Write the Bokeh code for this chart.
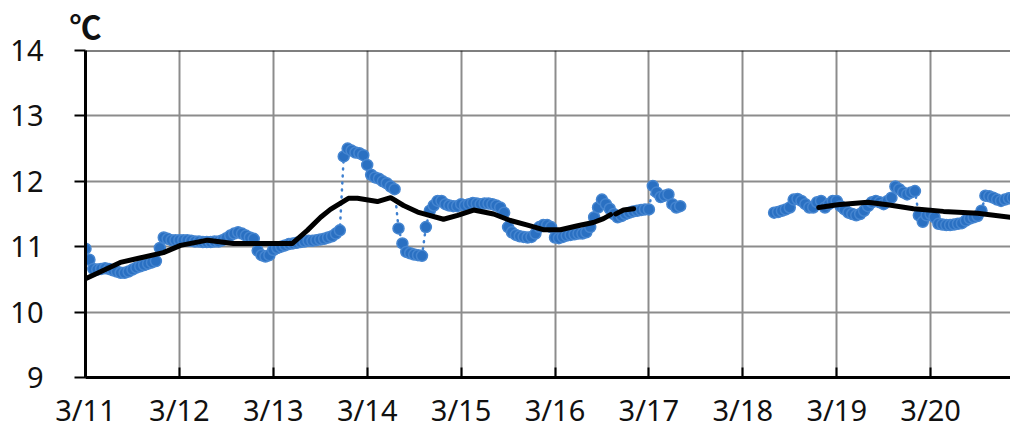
from bokeh.plotting import figure
from bokeh.models import Range1d, FixedTicker, Span
from bokeh.embed import file_html
from bokeh.resources import INLINE

nan = float("nan")

# hourly water temperature (deg C), index = hour of day
temp_0311 = [10.97, 10.80, 10.66, 10.65, 10.66, 10.67, 10.66, 10.64, 10.62, 10.60, 10.60, 10.62,
             10.65, 10.68, 10.70, 10.72, 10.74, 10.76, 10.78, 10.98, 11.14, 11.12, 11.10, 11.10]
temp_0312 = [11.10, 11.10, 11.10, 11.09, 11.08, 11.08, 11.07, 11.07, 11.07, 11.08, 11.08, 11.10,
             11.13, 11.17, 11.20, 11.22, 11.20, 11.17, 11.14, 11.12, 10.94, 10.87, 10.85, 10.87]
temp_0313 = [10.95, 10.98, 11.00, 11.02, 11.04, 11.05, 11.06, 11.07, 11.08, 11.09, 11.09, 11.10,
             11.11, 11.12, 11.14, 11.16, 11.20, 11.25, 12.38, 12.50, 12.47, 12.44, 12.43, 12.40]
temp_0314 = [12.25, 12.10, 12.06, 12.04, 12.00, 11.97, 11.92, 11.88, 11.28, 11.05, 10.92, 10.90,
             10.88, 10.87, 10.86, 11.30, 11.55, 11.63, 11.70, 11.70, 11.65, 11.63, 11.62, 11.62]
temp_0315 = [11.65, 11.63, 11.65, 11.67, 11.66, 11.65, 11.66, 11.66, 11.65, 11.63, 11.60, 11.52,
             11.30, 11.22, 11.18, 11.16, 11.15, 11.14, 11.15, 11.20, 11.30, 11.33, 11.33, 11.30]
temp_0316 = [11.14, 11.13, 11.15, 11.17, 11.18, 11.19, 11.20, 11.20, 11.22, 11.30, 11.45, 11.60,
             11.72, 11.65, 11.58, 11.50, 11.45, 11.47, 11.50, 11.52, 11.54, 11.55, 11.56, 11.57]
temp_0317 = [11.57, 11.93, 11.83, 11.76, 11.78, 11.80, 11.65, 11.60, 11.62, nan, nan, nan,
             nan, nan, nan, nan, nan, nan, nan, nan, nan, nan, nan, nan]
temp_0318 = [nan, nan, nan, nan, nan, nan, nan, nan, 11.52, 11.53, 11.55, 11.57,
             11.60, 11.72, 11.73, 11.70, 11.65, 11.60, 11.60, 11.68, 11.70, 11.60, 11.65, 11.70]
temp_0319 = [11.70, 11.62, 11.57, 11.52, 11.50, 11.48, 11.50, 11.55, 11.62, 11.68, 11.70, 11.68,
             11.65, 11.70, 11.75, 11.92, 11.88, 11.83, 11.80, 11.83, 11.85, 11.48, 11.38, 11.48]
temp_0320 = [11.50, 11.45, 11.35, 11.34, 11.33, 11.33, 11.34, 11.35, 11.36, 11.40, 11.43, 11.45,
             11.47, 11.55, 11.78, 11.77, 11.75, 11.72, 11.70, 11.72, 11.74, 11.75]

# moving average (hours since 3/11 00:00, deg C)
ma_hours = [0, 8.9, 13.3, 19.9, 24.3, 31.2, 37.8, 42.9, 52.9, 56.7, 60.1, 62.6, 67.2, 69.5,
            74.6, 78.0, 81.3, 84.9, 91.5, 95.1, 99.2, 104.3, 108.6, 113.0, 117.0, 121.4,
            125.8, 129.8, 132.4, 134.2, 134.9, 135.5, 137.5, 140.1, 160.0,
            187.4, 192.2, 199.9, 205.0, 211.6, 219.3, 228.0, 236.4]
ma_vals = [10.51, 10.76, 10.82, 10.91, 11.02, 11.10, 11.05, 11.05, 11.05, 11.25, 11.45, 11.57, 11.74, 11.74,
           11.69, 11.75, 11.63, 11.53, 11.42, 11.48, 11.56, 11.50, 11.40, 11.33, 11.26, 11.26,
           11.32, 11.37, 11.43, 11.49, nan, 11.50, 11.56, 11.58, nan,
           11.60, 11.64, 11.68, 11.64, 11.58, 11.54, 11.51, 11.45]

days = [11, 12, 13, 14, 15, 16, 17, 18, 19, 20]
day_labels = ["3/11", "3/12", "3/13", "3/14", "3/15", "3/16", "3/17", "3/18", "3/19", "3/20"]
y_ticks = [9, 10, 11, 12, 13, 14]
unit_text = "℃"

daily = [temp_0311, temp_0312, temp_0313, temp_0314, temp_0315,
         temp_0316, temp_0317, temp_0318, temp_0319, temp_0320]
xs, ys = [], []
for d, arr in zip(days, daily):
    for h, v in enumerate(arr):
        xs.append(d + h / 24.0)
        ys.append(v)
ma_x = [days[0] + h / 24.0 for h in ma_hours]

p = figure(width=1010, height=432, output_backend="svg", toolbar_location=None,
           x_range=Range1d(11, 11 + 925 / 93.9), y_range=Range1d(9, 14),
           min_border_left=85, min_border_right=0, min_border_top=50, min_border_bottom=55,
           title=unit_text)
p.outline_line_color = None
p.background_fill_color = "white"

p.title.align = "left"
p.title.vertical_align = "top"
p.title.offset = -16
p.title.standoff = 2
p.title.text_font = "Noto Sans CJK JP"
p.title.text_font_size = "32px"
p.title.text_font_style = "bold"
p.title.text_color = "#111111"

p.xgrid.grid_line_color = "#8c8c8c"
p.xgrid.grid_line_width = 2
p.ygrid.grid_line_color = "#8c8c8c"
p.ygrid.grid_line_width = 2
p.add_layout(Span(location=14, dimension="width", line_color="black", line_width=2))

blue = "#2a70c2"
p.line(xs, ys, line_color="#3f80d0", line_width=2.5, line_dash="1 6", line_cap="round")
p.scatter(xs, ys, size=11, fill_color=blue, line_color="#4585d0", line_width=1.5)
p.line(ma_x, ma_vals, line_color="black", line_width=5, line_join="round", line_cap="round")

font = "Noto Sans"
for ax in (p.xaxis[0], p.yaxis[0]):
    ax.axis_line_color = "black"
    ax.axis_line_width = 3
    ax.major_tick_line_color = "black"
    ax.major_tick_line_width = 2
    ax.minor_tick_line_color = None
    ax.major_label_text_font = font
    ax.major_label_text_font_size = "29px"
    ax.major_label_text_color = "#111111"

p.xaxis.ticker = FixedTicker(ticks=days)
p.xaxis.major_label_overrides = {d: lab for d, lab in zip(days, day_labels)}
p.xaxis.major_tick_in = 10
p.xaxis.major_tick_out = 0
p.xaxis.major_label_standoff = 12

p.yaxis.ticker = FixedTicker(ticks=y_ticks)
p.yaxis.major_tick_in = 0
p.yaxis.major_tick_out = 11
p.yaxis.major_label_standoff = 31

open("out.html", "w").write(file_html(p, INLINE))
